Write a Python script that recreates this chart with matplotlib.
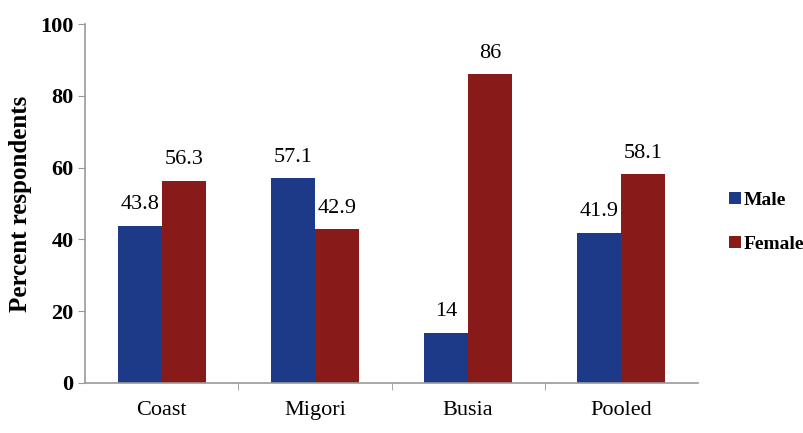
import numpy as np
import matplotlib.pyplot as plt

categories = ['Coast', 'Migori', 'Busia', 'Pooled']
male = [43.8, 57.1, 14, 41.9]
female = [56.3, 42.9, 86, 58.1]
male_labels = ['43.8', '57.1', '14', '41.9']
female_labels = ['56.3', '42.9', '86', '58.1']

plt.rcParams['font.family'] = ['Liberation Serif', 'DejaVu Serif']

fig = plt.figure(figsize=(8.04, 4.33), dpi=100)
ax = fig.add_axes([0.106, 0.1155, 0.762, 0.829])

x = np.arange(len(categories))
w = 0.287
blue = '#1c3a87'
red = '#881a1a'
b1 = ax.bar(x - w / 2, male, w, color=blue, label='Male')
b2 = ax.bar(x + w / 2, female, w, color=red, label='Female')

for bars, labs in ((b1, male_labels), (b2, female_labels)):
    for b, t in zip(bars, labs):
        ax.text(b.get_x() + b.get_width() / 2, b.get_height() + 3.2, t,
                ha='center', va='bottom', fontsize=16)

ax.set_xlim(-0.5, len(categories) - 0.5)
ax.set_ylim(0, 100)
ax.set_yticks(range(0, 101, 20))
ax.set_xticks(x)
ax.set_xticklabels(categories, fontsize=16)
ax.set_xticks(np.arange(0.5, len(categories) - 1, 1), minor=True)
ax.tick_params(axis='x', which='major', length=0, pad=13)
ax.tick_params(axis='x', which='minor', length=5, color='#999999')
ax.tick_params(axis='y', labelsize=16, length=5, color='#999999')
for lab in ax.get_yticklabels():
    lab.set_fontweight('bold')

for s in ('top', 'right'):
    ax.spines[s].set_visible(False)
for s in ('left', 'bottom'):
    ax.spines[s].set_color('#999999')
    ax.spines[s].set_linewidth(1.2)

ax.set_ylabel('Percent respondents', fontsize=18, fontweight='bold', labelpad=6)

ax.legend(loc='center left', bbox_to_anchor=(1.022, 0.447), frameon=False,
          prop={'weight': 'bold', 'size': 14}, handlelength=0.6, handleheight=0.6,
          handletextpad=0.15, labelspacing=1.4)

fig.savefig('out.png', dpi=100)
